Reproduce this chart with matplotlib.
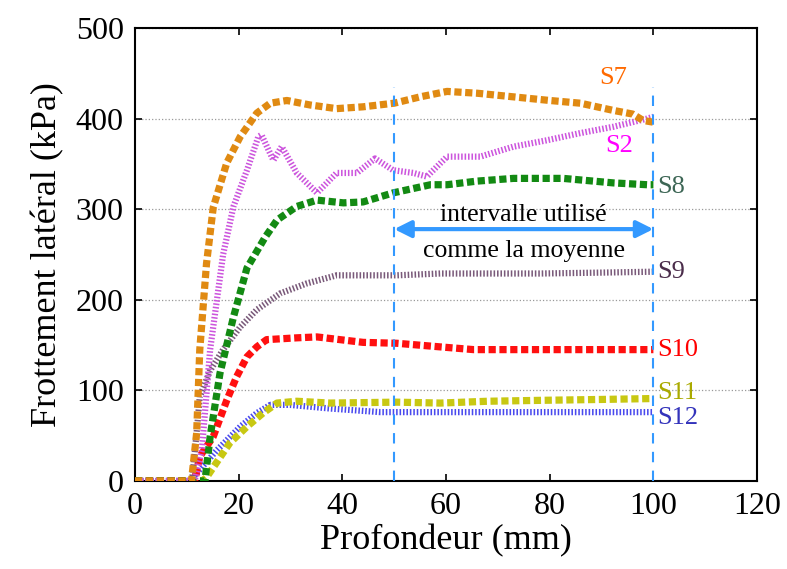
import matplotlib.pyplot as plt

plt.rcParams['font.family'] = ['Liberation Serif', 'DejaVu Serif']

# depth (mm) / lateral friction (kPa)
x_s7 = [0, 10.9, 11.9, 12.5, 13.8, 15.1, 17.7, 20.3, 23.5, 26.1, 29.3, 33.8, 38.9, 44, 50, 55, 60.2, 66, 73, 80, 85.9, 92.3, 96, 98, 100]
y_s7 = [0, 0, 53, 145, 240, 302, 351, 380, 406, 417, 420, 415, 411, 413, 417, 424, 430, 428, 424, 420, 417, 409, 405, 398, 396]

x_s2 = [0, 11.5, 12.9, 14.5, 17, 19, 21.6, 23.8, 24.4, 26.7, 28.3, 31.2, 35.1, 38.9, 42.8, 46.3, 49.8, 53.7, 56.3, 60.2, 66.6, 73, 79.4, 85.9, 92.3, 98.8, 100]
y_s2 = [0, 0, 34, 145, 250, 303, 343, 380, 382, 354, 369, 340, 318, 340, 340, 356, 343, 340, 336, 358, 358, 369, 376, 384, 391, 400, 402]

x_s8 = [0, 13.5, 14.5, 16.4, 19, 21.6, 25.1, 27.4, 31.2, 35.1, 40.2, 44, 49.8, 57, 60.2, 66, 73, 82.6, 92.3, 98.8, 100]
y_s8 = [0, 0, 49, 119, 181, 235, 269, 288, 303, 310, 307, 308, 318, 327, 327, 331, 334, 334, 329, 327, 327]

x_s9 = [0, 11, 12, 12.5, 14.5, 17, 20.3, 23.5, 28, 33.1, 38.9, 44, 50.5, 58.9, 68, 78.2, 90, 100]
y_s9 = [0, 0, 60, 93, 122, 145, 170, 189, 207, 218, 227, 227, 227, 229, 229, 229, 230, 231]

x_s10 = [0, 11.5, 12.5, 15.1, 17.7, 19.6, 21.6, 23.5, 25.4, 31.2, 35.1, 44, 50.5, 58.9, 65.3, 78.2, 90, 100]
y_s10 = [0, 0, 27, 49, 89, 115, 137, 148, 156, 158, 159, 153, 152, 148, 145, 145, 145, 145]

x_s11 = [0, 13, 13.8, 18.3, 21.6, 24.7, 27.4, 31.2, 37.6, 50.5, 58.9, 68, 78.2, 90, 100]
y_s11 = [0, 0, 4, 42, 60, 75, 86, 88, 86, 87, 86, 88, 89, 90, 91]

x_s12 = [0, 10.5, 11.2, 15.8, 20.3, 23.5, 26.1, 29.9, 37.6, 47.3, 57, 68, 78.2, 90, 100]
y_s12 = [0, 0, 4, 34, 60, 75, 84, 84, 80, 76, 76, 76, 76, 76, 76]

fig = plt.figure(figsize=(7.87, 5.69), dpi=100)
ax = fig.add_axes([0.1715, 0.1547, 0.7905, 0.7961])

thick = (0, (1.0, 0.5))
thin = (0, (0.25, 0.3))
ax.plot(x_s12, y_s12, color='#4a4aee', lw=4.5, linestyle=thin, zorder=3)
ax.plot(x_s11, y_s11, color='#c8c812', lw=5.2, linestyle=thick, zorder=3)
ax.plot(x_s10, y_s10, color='#ff1010', lw=5.2, linestyle=thick, zorder=3)
ax.plot(x_s9, y_s9, color='#7a5a7a', lw=4.5, linestyle=thin, zorder=3)
ax.plot(x_s8, y_s8, color='#138a13', lw=5.2, linestyle=thick, zorder=3)
ax.plot(x_s2, y_s2, color='#cc55dd', lw=4.5, linestyle=thin, zorder=3)
ax.plot(x_s7, y_s7, color='#e08a12', lw=5.2, linestyle=thick, zorder=3)

# interval used for the mean
ax.plot([50, 50], [0, 435], color='#3399ff', lw=1.5, linestyle=(0, (5, 4)), zorder=4)
ax.plot([100, 100], [0, 435], color='#3399ff', lw=1.5, linestyle=(0, (5, 4)), zorder=4)
ax.annotate('', xy=(50, 278), xytext=(100, 278),
            arrowprops=dict(arrowstyle='<|-|>', color='#3399ff', lw=3,
                            mutation_scale=25, shrinkA=0, shrinkB=0))
ax.text(75, 294, 'intervalle utilisé', ha='center', va='center', fontsize=18.5)
ax.text(75, 254, 'comme la moyenne', ha='center', va='center', fontsize=18.5)

ax.text(89.5, 445, 'S7', color='#ff6a00', fontsize=19, va='center')
ax.text(90.8, 370, 'S2', color='#ff00ff', fontsize=19, va='center')
ax.text(100.8, 324, 'S8', color='#3d6655', fontsize=19, va='center')
ax.text(100.8, 231, 'S9', color='#4b2d4b', fontsize=19, va='center')
ax.text(100.8, 145, 'S10', color='#ff0000', fontsize=19, va='center')
ax.text(100.8, 97, 'S11', color='#aaaa00', fontsize=19, va='center')
ax.text(100.8, 70, 'S12', color='#3333bb', fontsize=19, va='center')

ax.set_xlim(0, 120)
ax.set_ylim(0, 500)
ax.set_xticks(range(0, 121, 20))
ax.set_yticks(range(0, 501, 100))
ax.tick_params(direction='in', top=True, right=True, labelsize=23, length=5, width=1.2, pad=8)
ax.yaxis.grid(True, linestyle=':', color='#999999', lw=0.9)
for s in ax.spines.values():
    s.set_linewidth(1.5)
ax.set_xlabel('Profondeur (mm)', fontsize=26, labelpad=2)
ax.set_ylabel('Frottement latéral (kPa)', fontsize=26, labelpad=8)

fig.savefig('out.png', dpi=100)
